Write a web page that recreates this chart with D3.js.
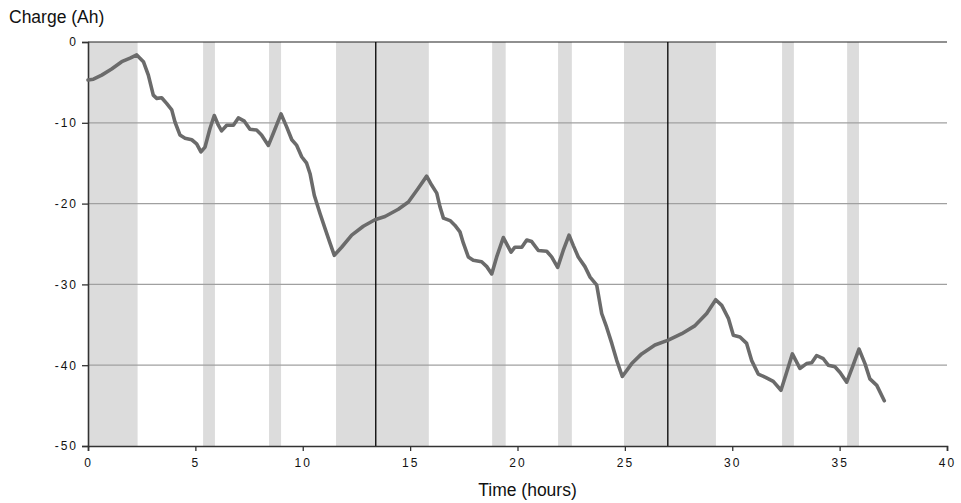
<!DOCTYPE html>
<html>
<head>
<meta charset="utf-8">
<script src="https://cdn.jsdelivr.net/npm/d3@7"></script>
<style>
  body { margin: 0; background: #fff; }
  text { font-family: "Liberation Sans", Arial, Helvetica, sans-serif; }
</style>
</head>
<body>
<svg id="chart" width="961" height="503"></svg>
<script>
// ---- data ----
const timeHours = [0, 0.25, 0.64, 1.1, 1.57, 1.96, 2.27, 2.58, 2.81, 3.04, 3.2, 3.43, 3.66, 3.9, 4.05, 4.28, 4.52, 4.83, 5.06, 5.26, 5.45, 5.68, 5.88, 6.07, 6.22, 6.46, 6.77, 7.0, 7.28, 7.54, 7.85, 8.08, 8.4, 8.63, 8.99, 9.25, 9.49, 9.72, 9.95, 10.18, 10.34, 10.54, 10.8, 11.04, 11.27, 11.47, 11.81, 12.28, 12.82, 13.36, 13.83, 14.45, 14.92, 15.38, 15.77, 16.0, 16.24, 16.39, 16.55, 16.86, 17.09, 17.32, 17.48, 17.71, 17.94, 18.33, 18.57, 18.8, 19.03, 19.34, 19.7, 19.88, 20.2, 20.43, 20.66, 20.97, 21.36, 21.59, 21.87, 22.13, 22.4, 22.6, 22.83, 23.14, 23.38, 23.69, 23.92, 24.15, 24.39, 24.62, 24.88, 25.32, 25.78, 26.4, 27.02, 27.65, 28.27, 28.81, 29.23, 29.51, 29.82, 30.05, 30.36, 30.67, 30.9, 31.21, 31.55, 31.91, 32.27, 32.53, 32.8, 33.15, 33.46, 33.7, 33.93, 34.24, 34.47, 34.78, 35.02, 35.33, 35.6, 35.9, 36.18, 36.41, 36.73, 37.08];
const chargeAh = [-4.7, -4.6, -4.1, -3.35, -2.44, -2.0, -1.6, -2.44, -4.1, -6.57, -6.98, -6.9, -7.6, -8.4, -9.9, -11.5, -11.9, -12.1, -12.6, -13.6, -13.0, -10.7, -9.1, -10.3, -11.0, -10.3, -10.3, -9.4, -9.8, -10.8, -10.9, -11.5, -12.8, -11.3, -8.9, -10.5, -12.1, -12.8, -14.2, -15.0, -16.3, -19.0, -21.2, -23.1, -24.9, -26.4, -25.4, -23.9, -22.8, -22.0, -21.6, -20.7, -19.8, -18.1, -16.6, -17.7, -18.7, -20.4, -21.8, -22.1, -22.7, -23.5, -24.9, -26.6, -27.0, -27.2, -27.8, -28.7, -26.6, -24.2, -26.0, -25.4, -25.4, -24.5, -24.7, -25.8, -25.9, -26.6, -27.9, -25.8, -23.9, -25.2, -26.6, -27.8, -29.1, -30.1, -33.6, -35.3, -37.3, -39.4, -41.4, -39.8, -38.6, -37.5, -36.9, -36.1, -35.1, -33.6, -31.9, -32.6, -34.2, -36.3, -36.5, -37.3, -39.4, -41.1, -41.5, -42.0, -43.1, -40.9, -38.6, -40.4, -39.8, -39.7, -38.8, -39.2, -40.0, -40.2, -40.9, -42.1, -40.2, -38.0, -39.8, -41.7, -42.5, -44.4];
const bandStarts = [0, 5.36, 8.43, 11.55, 18.82, 21.89, 24.96, 32.32, 35.35];
const bandEnds   = [2.31, 5.91, 8.99, 15.87, 19.45, 22.53, 29.24, 32.87, 35.9];
const markerTimes = [13.4, 27.0];
const xTicks = [0, 5, 10, 15, 20, 25, 30, 35, 40];
const yTicks = [0, -10, -20, -30, -40, -50];
const yTitle = "Charge (Ah)";
const xTitle = "Time (hours)";

// ---- layout ----
const svg = d3.select("#chart");
const mLeft = 88, mRight = 947, mTop = 42, mBottom = 446;
const x = d3.scaleLinear().domain([0, 40]).range([mLeft, mRight]);
const y = d3.scaleLinear().domain([-50, 0]).range([mBottom, mTop]);

// shaded bands
svg.append("g").selectAll("rect")
  .data(bandStarts.map((s, i) => [s, bandEnds[i]]))
  .join("rect")
  .attr("x", d => x(d[0]))
  .attr("width", d => x(d[1]) - x(d[0]))
  .attr("y", y(0))
  .attr("height", y(-50) - y(0))
  .attr("fill", "#dcdcdc");

// grid lines
svg.append("g").selectAll("line")
  .data(yTicks.filter(v => v !== 0 && v !== -50))
  .join("line")
  .attr("x1", mLeft).attr("x2", mRight)
  .attr("y1", d => y(d)).attr("y2", d => y(d))
  .attr("stroke", "#a0a0a0").attr("stroke-width", 1.2);

// top line at 0
svg.append("line")
  .attr("x1", mLeft).attr("x2", mRight)
  .attr("y1", y(0)).attr("y2", y(0))
  .attr("stroke", "#222").attr("stroke-width", 1.2);

// vertical marker lines
svg.append("g").selectAll("line")
  .data(markerTimes)
  .join("line")
  .attr("x1", d => x(d)).attr("x2", d => x(d))
  .attr("y1", y(0)).attr("y2", y(-50))
  .attr("stroke", "#000").attr("stroke-width", 1.3);

// axes
const xAxis = svg.append("g")
  .attr("transform", `translate(0,${mBottom})`)
  .call(d3.axisBottom(x).tickValues(xTicks).tickSize(5).tickPadding(7).tickFormat(d3.format("d")));
const yAxis = svg.append("g")
  .attr("transform", `translate(${mLeft},0)`)
  .call(d3.axisLeft(y).tickValues(yTicks).tickSize(6).tickPadding(4).tickFormat(d => String(d)));

[xAxis, yAxis].forEach(a => {
  a.select(".domain").attr("stroke", "#333").attr("stroke-width", 1.6);
  a.selectAll(".tick line").attr("stroke", "#333").attr("stroke-width", 1.3);
  a.selectAll(".tick text")
    .attr("fill", "#111")
    .style("font-size", "12px")
    .style("letter-spacing", "2px")
    .style("font-family", "'Liberation Sans', Arial, sans-serif");
});

// data line
const line = d3.line()
  .x((d, i) => x(timeHours[i]))
  .y(d => y(d));
svg.append("path")
  .datum(chargeAh)
  .attr("d", line)
  .attr("fill", "none")
  .attr("stroke", "#6b6b6b")
  .attr("stroke-width", 3.6)
  .attr("stroke-linejoin", "round")
  .attr("stroke-linecap", "round");

// titles
svg.append("text")
  .attr("x", 9).attr("y", 23)
  .attr("fill", "#111")
  .style("font-size", "17.5px")
  .text(yTitle);
svg.append("text")
  .attr("x", 527.5).attr("y", 496)
  .attr("text-anchor", "middle")
  .attr("fill", "#111")
  .style("font-size", "17.5px")
  .text(xTitle);
</script>
</body>
</html>
